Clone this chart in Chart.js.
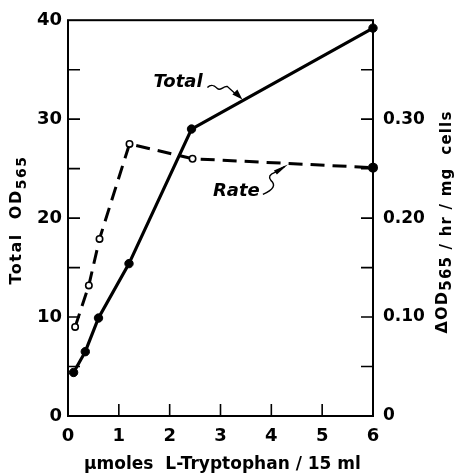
<!DOCTYPE html>
<html>
<head>
<meta charset="utf-8">
<script src="https://cdn.jsdelivr.net/npm/chart.js@4.4.1/dist/chart.umd.min.js"></script>
<style>
  html, body { margin: 0; padding: 0; background: #fff; }
</style>
</head>
<body>
<canvas id="canvas" width="455" height="475"></canvas>
<script>
// values
let totalX = [0.11, 0.34, 0.6, 1.2, 2.43, 6];
let totalY = [4.4, 6.5, 9.9, 15.4, 29, 39.2];
let rateX = [0.14, 0.41, 0.62, 1.21, 2.45, 6];
let rateY = [0.090, 0.132, 0.179, 0.275, 0.260, 0.251];
let leftLabels = [0, 10, 20, 30, 40];
let rightLabels = [0, 0.10, 0.20, 0.30];

let FONT = "DejaVu Sans";

function pts(xs, ys){
  return xs.map(function(x, i){ return {x: x, y: ys[i]}; });
}

// frame, inward ticks, axis titles and the two callouts
let decor = {
  id: 'decor',
  afterDraw: function(chart){
    let c = chart.ctx;
    let a = chart.chartArea;
    let sx = chart.scales.x, sy = chart.scales.y, sy2 = chart.scales.y2;
    c.save();
    c.strokeStyle = '#000';
    c.fillStyle = '#000';
    c.lineWidth = 2;
    c.strokeRect(a.left, a.top, a.right - a.left, a.bottom - a.top);

    c.lineWidth = 1.6;
    c.beginPath();
    sx.ticks.forEach(function(t){
      if (t.value <= 0 || t.value >= 6) return;
      let px = sx.getPixelForValue(t.value);
      c.moveTo(px, a.bottom); c.lineTo(px, a.bottom - 12);
    });
    sy.ticks.forEach(function(t){
      if (t.value <= 0 || t.value >= 40) return;
      let py = sy.getPixelForValue(t.value);
      c.moveTo(a.left, py); c.lineTo(a.left + 12, py);
    });
    sy2.ticks.forEach(function(t){
      if (t.value <= 0.001 || t.value >= 0.399) return;
      let py = sy2.getPixelForValue(t.value);
      c.moveTo(a.right, py); c.lineTo(a.right - 12, py);
    });
    c.stroke();

    // x title
    c.font = 'bold 17px ' + FONT;
    c.textAlign = 'center';
    c.textBaseline = 'middle';
    c.fillText('\u03bcmoles  L-Tryptophan / 15 ml', (a.left + a.right) / 2 + 2, 465);

    // left title
    vertTitle(c, 17, 220, 'Total  OD', '565', 16, 14, 1.5);
    // right title
    vertTitle(c, 443, 222, '\u0394OD', '565 / hr / mg  cells', 16, 15, 1.2, 4);

    // callouts
    c.font = 'italic bold 18px ' + FONT;
    c.textAlign = 'left';
    let tx = sx.getPixelForValue(1.68), ty = sy.getPixelForValue(33.7);
    c.fillText('Total', tx, ty);
    let rx = sx.getPixelForValue(2.85), ry = sy.getPixelForValue(22.7);
    c.fillText('Rate', rx, ry);

    c.lineWidth = 1.4;
    // Total squiggle
    let ox = tx + 54, oy = ty + 5;
    c.beginPath();
    c.moveTo(ox, oy);
    c.bezierCurveTo(ox + 4, oy - 4, ox + 7, oy - 2, ox + 10, oy + 1);
    c.bezierCurveTo(ox + 13, oy + 4, ox + 16, oy - 2, ox + 20, oy - 1);
    c.lineTo(ox + 31, oy + 9);
    c.stroke();
    c.beginPath();
    c.moveTo(ox + 35, oy + 12);
    c.lineTo(ox + 25, oy + 7);
    c.lineTo(ox + 30, oy + 2);
    c.closePath();
    c.fill();

    // Rate squiggle
    let qx = rx + 50, qy = ry + 3;
    c.beginPath();
    c.moveTo(qx, qy);
    c.quadraticCurveTo(qx + 16, qy - 7, qx + 8, qy - 14);
    c.quadraticCurveTo(qx + 4, qy - 19, qx + 12, qy - 22);
    c.lineTo(qx + 22, qy - 28);
    c.stroke();
    c.beginPath();
    c.moveTo(qx + 25, qy - 30);
    c.lineTo(qx + 11, qy - 24);
    c.lineTo(qx + 14, qy - 20);
    c.closePath();
    c.fill();
    c.restore();
  }
};

function vertTitle(c, x, y, main, sub, size, subSize, spacing, subShift){
  c.save();
  c.translate(x, y);
  c.rotate(-Math.PI / 2);
  c.letterSpacing = spacing + 'px';
  c.textAlign = 'left';
  c.textBaseline = 'middle';
  c.font = 'bold ' + size + 'px ' + FONT;
  let w1 = c.measureText(main).width;
  c.font = 'bold ' + subSize + 'px ' + FONT;
  let w2 = c.measureText(sub).width;
  let x0 = -(w1 + w2) / 2;
  c.font = 'bold ' + size + 'px ' + FONT;
  c.fillText(main, x0, 0);
  c.font = 'bold ' + subSize + 'px ' + FONT;
  c.fillText(sub, x0 + w1, subShift === undefined ? 5 : subShift);
  c.restore();
}

let ctx = canvas.getContext('2d');
let chart = new Chart(ctx, {
  type: 'line',
  data: {
    datasets: [{
      label: 'Total',
      data: pts(totalX, totalY),
      yAxisID: 'y',
      borderColor: '#000',
      backgroundColor: '#000',
      borderWidth: 3.2,
      pointRadius: 4.2,
      pointBackgroundColor: '#000',
      pointBorderColor: '#000',
      pointBorderWidth: 1,
      tension: 0,
      clip: false
    }, {
      label: 'Rate',
      data: pts(rateX, rateY),
      yAxisID: 'y2',
      borderColor: '#000',
      borderWidth: 3,
      borderDash: [14, 8],
      pointRadius: rateX.map(function(x, i){ return i === rateX.length - 1 ? 4.2 : 3.2; }),
      pointBackgroundColor: rateX.map(function(x, i){ return i === rateX.length - 1 ? '#000' : '#fff'; }),
      pointBorderColor: '#000',
      pointBorderWidth: 1.6,
      tension: 0,
      clip: false
    }]
  },
  options: {
    responsive: false,
    animation: false,
    layout: { padding: { top: 20, left: 0, right: 0, bottom: 0 } },
    plugins: { legend: { display: false }, tooltip: { enabled: false } },
    scales: {
      x: {
        type: 'linear', min: 0, max: 6,
        grid: { display: false, drawTicks: false },
        border: { display: false },
        ticks: { stepSize: 1, color: '#000', padding: 10, font: { family: FONT, size: 18, weight: 'bold' } },
        afterFit: function(s){ s.height = 59; }
      },
      y: {
        position: 'left', min: 0, max: 40,
        grid: { display: false, drawTicks: false },
        border: { display: false },
        ticks: {
          stepSize: 5, color: '#000', padding: 6,
          font: { family: FONT, size: 18, weight: 'bold' },
          callback: function(v){ return leftLabels.indexOf(v) >= 0 ? String(v) : ''; }
        },
        afterFit: function(s){ s.width = 68; }
      },
      y2: {
        position: 'right', min: 0, max: 0.4,
        grid: { display: false, drawTicks: false },
        border: { display: false },
        ticks: {
          stepSize: 0.05, color: '#000', padding: 10,
          font: { family: FONT, size: 17, weight: 'bold' },
          callback: function(v){
            let r = Math.round(v * 100) / 100;
            if (rightLabels.indexOf(r) < 0) return '';
            return r === 0 ? '0' : r.toFixed(2);
          }
        },
        afterFit: function(s){ s.width = 82; }
      }
    }
  },
  plugins: [decor]
});
</script>
</body>
</html>
